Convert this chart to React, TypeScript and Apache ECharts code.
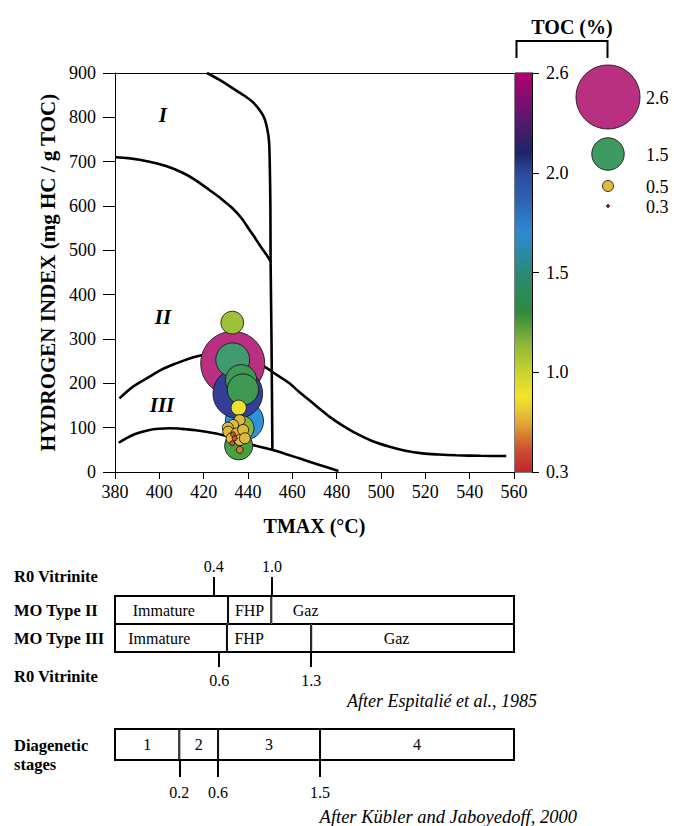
import React, { useEffect, useRef } from "react";
import * as echarts from "echarts";

const FONT = "'Liberation Serif', 'Times New Roman', Times, serif";
const INK = "#000";

// ---------- Rock-Eval samples ----------
const tmax = [433.1, 438.4, 435.4, 433.1, 436.9, 437.7, 432.9, 435.8, 437.1, 435.8, 436.2, 433.3, 430.9, 431.1, 434.8, 437.8, 432.6, 436.3, 438.6, 433.3, 434.0, 432.9, 436.3];
const hydrogenIndex = [245, 115, 177, 253, 207, 186, 337, 59, 99, 145, 117, 106, 100, 91, 87, 95, 76, 72, 76, 85, 76, 65, 50];
const toc = [2.6, 1.7, 2.1, 1.55, 1.45, 1.45, 1.05, 1.3, 1.15, 0.7, 0.5, 0.5, 0.5, 0.5, 0.5, 0.5, 0.5, 0.5, 0.5, 0.35, 0.35, 0.35, 0.4];

// ---------- kerogen type boundaries (Tmax, HI) ----------
const curveTypeI = [[421.5, 900], [427, 885], [433, 866], [438, 850], [442, 835], [445.3, 816], [447.4, 798], [448.8, 771], [449.5, 745], [449.8, 700], [450.1, 600], [450.2, 475], [450.6, 300], [451, 50]];
const curveTypeII = [[380, 710], [386, 708], [395.6, 700], [403, 690], [410.5, 675], [416.5, 658], [422.6, 636], [428, 616], [433, 595], [437, 573], [440.7, 546], [443.2, 528], [445.4, 511], [448.2, 491], [450.2, 475]];
const curveTypeIIIUpper = [[382, 166], [388, 192], [395.6, 215], [401, 231], [407.6, 245], [413, 255], [418.1, 262], [424, 268], [429.4, 270.5], [434, 268], [440, 258], [447.4, 237.5], [453, 219], [458.7, 200], [463, 181], [467.7, 162], [472, 144], [476.7, 125], [482, 107], [488.8, 87], [496, 70], [503.9, 57], [511, 48], [518.7, 42], [526, 39.5], [533.9, 37.7], [545, 36.5], [556.5, 36]];
const curveTypeIIILower = [[381.7, 66], [388, 83.5], [395.6, 94.7], [400, 97.5], [404.6, 98.6], [408.5, 98], [412.1, 96.3], [416.5, 94], [421.1, 91], [428.6, 83.5], [435.4, 72.2], [442.2, 61], [451.2, 49.6], [463.1, 30.9], [472.3, 15.8], [480.8, 2.5]];
const typeLabels = ["I", "II", "III"];
const typeLabelTmax = [401.6, 401.6, 401.2];
const typeLabelHI = [805, 350, 151];

// ---------- TOC colour bar & size legend ----------
const tocTicks = [0.3, 1.0, 1.5, 2.0, 2.6];
const tocTickLabels = ["0.3", "1.0", "1.5", "2.0", "2.6"];
const legendToc = [2.6, 1.5, 0.5, 0.3];
const legendLabels = ["2.6", "1.5", "0.5", "0.3"];

// ---------- maturity scales ----------
const zoneLabels = ["Immature", "FHP", "Gaz"];
const moTypeIIBounds = [380, 431, 450.5, 560];
const moTypeIILabelTmax = [402, 440.7, 466];
const moTypeIIIBounds = [380, 430.5, 468.5, 560];
const moTypeIIILabelTmax = [400, 440.5, 507];
const r0TopTmax = [424.5, 450.8];
const r0TopLabels = ["0.4", "1.0"];
const r0BottomTmax = [427, 468.5];
const r0BottomLabels = ["0.6", "1.3"];
const diagBounds = [380, 409, 426.5, 472.5, 560];
const diagLabels = ["1", "2", "3", "4"];
const diagTickTmax = [409, 426.5, 472.5];
const diagTickLabels = ["0.2", "0.6", "1.5"];

// ---------- styles ----------
// colour bar gradient (position along bar 0..1)
const BAR_STOPS: [number, string][] = [
  [0.0, "#c0272d"], [0.05, "#cb4a2e"], [0.09, "#d77a30"], [0.12, "#e0a535"], [0.16, "#eacb33"],
  [0.19, "#f2e52b"], [0.25, "#c9d22f"], [0.32, "#8fb737"], [0.4, "#2f8a3d"], [0.5, "#2a897a"],
  [0.6, "#2d8ad2"], [0.68, "#2f62b2"], [0.75, "#2b4b9c"], [0.8, "#1f2466"], [0.88, "#55196f"], [1.0, "#b3006e"],
];
// bubble fill palette (by TOC %)
const BUBBLE_STOPS: [number, string][] = [
  [0.3, "#b0302a"], [0.35, "#c9552f"], [0.42, "#d88a36"], [0.5, "#dfba3c"], [0.7, "#f0e034"],
  [1.0, "#a9c53a"], [1.15, "#8ab536"], [1.3, "#47a042"], [1.45, "#3e9a52"], [1.55, "#3f9a72"],
  [1.7, "#2f93dc"], [1.95, "#3a56aa"], [2.1, "#333f97"], [2.35, "#6a2c88"], [2.6, "#b93080"],
];
const SIZE_TOC = [0.3, 0.5, 1.5, 2.6];
const SIZE_DIAM = [3, 11, 32.4, 64];

function interpStops(stops: [number, string][], v: number) {
  if (v <= stops[0][0]) return stops[0][1];
  for (let i = 1; i < stops.length; i++) {
    const [o1, c1] = stops[i];
    if (v <= o1) {
      const [o0, c0] = stops[i - 1];
      return echarts.color.lerp((v - o0) / (o1 - o0), [c0, c1]) as string;
    }
  }
  return stops[stops.length - 1][1];
}
const bubbleColor = (v: number) => interpStops(BUBBLE_STOPS, v);
function diamOf(v: number) {
  if (v <= SIZE_TOC[0]) return SIZE_DIAM[0];
  for (let i = 1; i < SIZE_TOC.length; i++) {
    if (v <= SIZE_TOC[i]) {
      const f = (v - SIZE_TOC[i - 1]) / (SIZE_TOC[i] - SIZE_TOC[i - 1]);
      return SIZE_DIAM[i - 1] + f * (SIZE_DIAM[i] - SIZE_DIAM[i - 1]);
    }
  }
  return SIZE_DIAM[SIZE_DIAM.length - 1];
}
function labelFor(values: number[], labels: string[]) {
  return (v: number) => {
    let best = 0;
    for (let i = 1; i < values.length; i++) if (Math.abs(values[i] - v) < Math.abs(values[best] - v)) best = i;
    return labels[best];
  };
}

const txt = (size: number, extra: any = {}) => ({ fontFamily: FONT, fontSize: size, color: INK, ...extra });
const plainLabel = (size: number, extra: any = {}) => ({
  show: true, position: "inside", formatter: "{b}", opacity: 1, textBorderWidth: 0, textShadowBlur: 0, ...txt(size, extra),
});

function buildOption() {
  const curveSeries = [curveTypeI, curveTypeII, curveTypeIIIUpper, curveTypeIIILower].map((c) => ({
    type: "line",
    xAxisIndex: 0,
    yAxisIndex: 0,
    data: c,
    showSymbol: false,
    symbol: "none",
    smooth: 0.3,
    lineStyle: { color: "#000", width: 2.6 },
    z: 2,
    silent: true,
  }));

  const bubbles = {
    type: "scatter",
    xAxisIndex: 0,
    yAxisIndex: 0,
    data: tmax.map((x, i) => [x, hydrogenIndex[i], toc[i]]),
    symbolSize: (val: number[]) => diamOf(val[2]),
    itemStyle: {
      color: (p: any) => bubbleColor(p.value[2]),
      borderColor: "#1a1a1a",
      borderWidth: 0.9,
      opacity: 1,
    },
    z: 3,
  };

  const typeLabelSeries = {
    type: "scatter",
    xAxisIndex: 0,
    yAxisIndex: 0,
    symbol: "circle",
    symbolSize: 1,
    itemStyle: { color: "#fff", opacity: 1 },
    data: typeLabels.map((n, i) => ({ name: n, value: [typeLabelTmax[i], typeLabelHI[i]] })),
    label: plainLabel(21, { fontWeight: "bold", fontStyle: "italic" }),
    z: 4,
    silent: true,
  };

  const colorBar = {
    type: "bar",
    xAxisIndex: 2,
    yAxisIndex: 1,
    data: [tocTicks.length - 1],
    barWidth: "100%",
    itemStyle: {
      color: new echarts.graphic.LinearGradient(0, 1, 0, 0, BAR_STOPS.map(([o, c]) => ({ offset: o, color: c }))),
    },
    silent: true,
  };

  // stacked segments for the maturity boxes
  const moCats = ["MO Type III", "MO Type II"];
  const moSeries: any[] = [
    {
      type: "bar", xAxisIndex: 3, yAxisIndex: 2, stack: "mo", barWidth: "100%",
      data: [moTypeIIIBounds[0], moTypeIIBounds[0]],
      itemStyle: { color: "rgba(0,0,0,0)", borderWidth: 0 }, silent: true,
    },
  ];
  for (let k = 0; k < zoneLabels.length; k++) {
    moSeries.push({
      type: "bar", xAxisIndex: 3, yAxisIndex: 2, stack: "mo", barWidth: "100%",
      data: [moTypeIIIBounds[k + 1] - moTypeIIIBounds[k], moTypeIIBounds[k + 1] - moTypeIIBounds[k]],
      itemStyle: { color: "#fff", borderColor: "#000", borderWidth: 1 },
      silent: true,
    });
  }
  moSeries.push({
    type: "scatter", xAxisIndex: 3, yAxisIndex: 2, symbol: "circle", symbolSize: 1, silent: true,
    itemStyle: { color: "#fff", opacity: 1 },
    data: [
      ...zoneLabels.map((n, k) => ({ name: n, value: [moTypeIILabelTmax[k], "MO Type II"] })),
      ...zoneLabels.map((n, k) => ({ name: n, value: [moTypeIIILabelTmax[k], "MO Type III"] })),
    ],
    label: plainLabel(16),
    z: 5,
  });

  const diagSeries: any[] = [
    {
      type: "bar", xAxisIndex: 5, yAxisIndex: 3, stack: "dg", barWidth: "100%",
      data: [diagBounds[0]], itemStyle: { color: "rgba(0,0,0,0)", borderWidth: 0 }, silent: true,
    },
  ];
  for (let k = 0; k < diagLabels.length; k++) {
    diagSeries.push({
      type: "bar", xAxisIndex: 5, yAxisIndex: 3, stack: "dg", barWidth: "100%",
      data: [{ name: diagLabels[k], value: diagBounds[k + 1] - diagBounds[k] }],
      itemStyle: { color: "#fff", borderColor: "#000", borderWidth: 1 },
      label: plainLabel(16),
      silent: true,
    });
  }

  const hiddenCat = (gridIndex: number, data: string[]) => ({
    type: "category", gridIndex, data, show: false, boundaryGap: true,
  });

  const legendY = [97, 154, 186, 206];
  const textStyle = (text: string, size: number, extra: any = {}) => ({
    text, fontFamily: FONT, fontSize: size, fill: INK, align: "left", verticalAlign: "middle", ...extra,
  });
  const graphic: any[] = [
    { type: "text", x: 572, y: 27, style: textStyle("TOC (%)", 20, { fontWeight: "bold", align: "center" }) },
    { type: "polyline", shape: { points: [[516.5, 58], [516.5, 41], [607.5, 41], [607.5, 58]] }, style: { stroke: "#000", lineWidth: 2, fill: "none" } },
    ...legendToc.map((v, i) => ({
      type: "circle", shape: { cx: 608, cy: legendY[i], r: diamOf(v) / 2 },
      style: { fill: bubbleColor(v), stroke: "#1a1a1a", lineWidth: 0.9 },
    })),
    ...legendLabels.map((s, i) => ({ type: "text", x: 646, y: legendY[i] + 1, style: textStyle(s, 18) })),
    { type: "text", x: 14, y: 576, style: textStyle("R0 Vitrinite", 16.5, { fontWeight: "bold" }) },
    { type: "text", x: 14, y: 676, style: textStyle("R0 Vitrinite", 16.5, { fontWeight: "bold" }) },
    { type: "text", x: 537, y: 701, style: textStyle("After Espitalié et al., 1985", 18, { fontStyle: "italic", align: "right" }) },
    { type: "text", x: 14, y: 745, style: textStyle("Diagenetic", 16.5, { fontWeight: "bold" }) },
    { type: "text", x: 14, y: 764, style: textStyle("stages", 16.5, { fontWeight: "bold" }) },
    { type: "text", x: 577, y: 817, style: textStyle("After Kübler and Jaboyedoff, 2000", 18.5, { fontStyle: "italic", align: "right" }) },
  ];

  return {
    animation: false,
    backgroundColor: "#fff",
    textStyle: { fontFamily: FONT },
    grid: [
      { left: 115, top: 73, width: 399, height: 399, show: false },
      { left: 515, top: 73, width: 17, height: 399, show: true, borderColor: "#000", borderWidth: 1, backgroundColor: "rgba(0,0,0,0)" },
      { left: 115, top: 596, width: 399, height: 56, show: true, borderColor: "#000", borderWidth: 2, backgroundColor: "#fff" },
      { left: 115, top: 729, width: 399, height: 31, show: true, borderColor: "#000", borderWidth: 2, backgroundColor: "#fff" },
    ],
    xAxis: [
      {
        type: "value", gridIndex: 0, min: 380, max: 560, interval: 20,
        name: "TMAX (°C)", nameLocation: "middle", nameGap: 44,
        nameTextStyle: txt(20, { fontWeight: "bold" }),
        axisLine: { show: true, onZero: false, lineStyle: { color: "#000", width: 1 } },
        axisTick: { show: true, length: 7, lineStyle: { color: "#000" } },
        axisLabel: { ...txt(18), margin: 11 },
        splitLine: { show: false },
      },
      {
        type: "value", gridIndex: 0, min: 380, max: 560, position: "top",
        axisLine: { show: true, onZero: false, lineStyle: { color: "#000", width: 1 } },
        axisTick: { show: false }, axisLabel: { show: false }, splitLine: { show: false },
      },
      hiddenCat(1, ["TOC"]),
      {
        type: "value", gridIndex: 2, min: 380, max: 560, position: "bottom",
        axisLine: { show: false }, splitLine: { show: false },
        axisTick: { show: true, customValues: r0BottomTmax, length: 15, lineStyle: { color: "#000", width: 2 } },
        axisLabel: { show: true, customValues: r0BottomTmax, formatter: labelFor(r0BottomTmax, r0BottomLabels), margin: 20, ...txt(16) },
      },
      {
        type: "value", gridIndex: 2, min: 380, max: 560, position: "top",
        axisLine: { show: false }, splitLine: { show: false },
        axisTick: { show: true, customValues: r0TopTmax, length: 19, lineStyle: { color: "#000", width: 2 } },
        axisLabel: { show: true, customValues: r0TopTmax, formatter: labelFor(r0TopTmax, r0TopLabels), margin: 22, ...txt(16) },
      },
      {
        type: "value", gridIndex: 3, min: 380, max: 560, position: "bottom",
        axisLine: { show: false }, splitLine: { show: false },
        axisTick: { show: true, customValues: diagTickTmax, length: 17, lineStyle: { color: "#000", width: 2 } },
        axisLabel: { show: true, customValues: diagTickTmax, formatter: labelFor(diagTickTmax, diagTickLabels), margin: 24, ...txt(16) },
      },
    ],
    yAxis: [
      {
        type: "value", gridIndex: 0, min: 0, max: 900, interval: 100,
        name: "HYDROGEN INDEX (mg HC / g TOC)", nameLocation: "middle", nameGap: 56, nameRotate: 90,
        nameTextStyle: txt(21, { fontWeight: "bold" }),
        axisLine: { show: true, onZero: false, lineStyle: { color: "#000", width: 1 } },
        axisTick: { show: true, length: 12, lineStyle: { color: "#000" } },
        axisLabel: { ...txt(18), margin: 19 },
        splitLine: { show: false },
      },
      {
        type: "value", gridIndex: 1, min: 0, max: tocTicks.length - 1, interval: 1, position: "right",
        axisLine: { show: true, lineStyle: { color: "#000", width: 1 } },
        axisTick: { show: true, length: 7, lineStyle: { color: "#000" } },
        axisLabel: { ...txt(18), margin: 14, formatter: (v: number) => tocTickLabels[Math.round(v)] },
        splitLine: { show: false },
      },
      {
        type: "category", gridIndex: 2, data: moCats,
        axisLine: { show: false }, axisTick: { show: false },
        axisLabel: { show: true, align: "left", margin: 101, ...txt(16.5, { fontWeight: "bold" }) },
      },
      hiddenCat(3, ["Diagenetic stages"]),
    ],
    series: [...curveSeries, bubbles, typeLabelSeries, colorBar, ...moSeries, ...diagSeries],
    graphic,
  };
}

export default function App() {
  const ref = useRef<HTMLDivElement>(null);
  useEffect(() => {
    if (!ref.current) return;
    const chart = echarts.init(ref.current, null, { renderer: "svg" });
    chart.setOption(buildOption() as any);
    return () => chart.dispose();
  }, []);
  return (
    <div
      ref={ref}
      style={{ position: "absolute", left: 0, top: 0, width: 674, height: 826, background: "#fff" }}
    />
  );
}
